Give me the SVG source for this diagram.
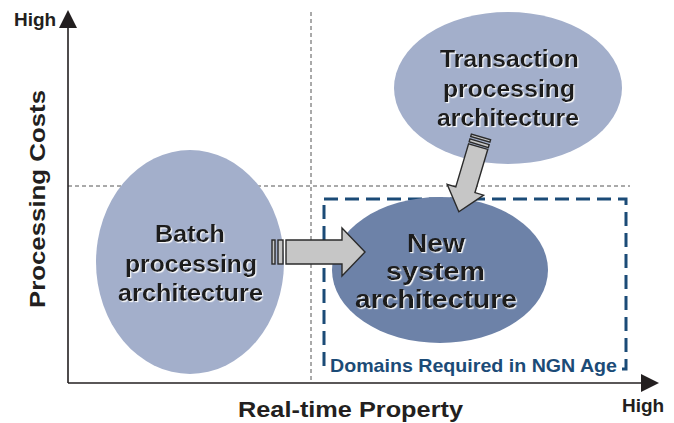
<svg xmlns="http://www.w3.org/2000/svg" width="674" height="423" viewBox="0 0 674 423">
  <defs>
    <style>
      .axis { stroke: #231f20; stroke-width: 1.6; fill: none; }
      .guide { stroke: #555; stroke-width: 1; stroke-dasharray: 4 3; fill: none; }
      .domain { stroke: #1b4b77; stroke-width: 3; stroke-dasharray: 14 7; fill: none; }
      .lbl { font-family: "Liberation Sans", Arial, sans-serif; font-weight: bold; fill: #231f20; }
      .node-text { font-family: "Liberation Sans", Arial, sans-serif; font-weight: bold; font-size: 24px; fill: #1c1c1c; text-anchor: middle; filter: url(#glow); }
      .big { font-size: 26px; }
      .flow { fill: #c6c6c6; stroke: #2b2b2b; stroke-width: 1.4; stroke-linejoin: miter; }
    </style>
    <filter id="glow" x="-10%" y="-20%" width="120%" height="140%">
      <feDropShadow dx="1.2" dy="1.2" stdDeviation="0.3" flood-color="#ffffff" flood-opacity="0.9"/>
    </filter>
  </defs>

  <!-- quadrant guides -->
  <g id="guides">
    <line class="guide" x1="311" y1="12" x2="311" y2="382"/>
    <line class="guide" x1="68" y1="186" x2="630" y2="186"/>
  </g>

  <!-- axes -->
  <g id="axes">
    <line class="axis" x1="68" y1="383" x2="644" y2="383"/>
    <polygon points="659,383 641,374 641,392" fill="#231f20"/>
    <line class="axis" x1="68" y1="383" x2="68" y2="26"/>
    <polygon points="68,10 59,28 77,28" fill="#231f20"/>
    <text class="lbl" x="14" y="26" font-size="19">High</text>
    <text class="lbl" x="622" y="412" font-size="19">High</text>
    <text class="lbl" x="238" y="417" font-size="22" textLength="225" lengthAdjust="spacingAndGlyphs">Real-time Property</text>
    <text class="lbl" font-size="22" textLength="218" lengthAdjust="spacingAndGlyphs" transform="translate(45,308) rotate(-90)">Processing Costs</text>
  </g>

  <!-- target domain -->
  <g id="domain">
    <rect class="domain" x="324" y="199" width="302" height="170"/>
  </g>

  <g id="batch">
    <ellipse cx="190" cy="262" rx="94" ry="112" fill="#a3afcb"/>
    <text class="node-text" x="190" y="242" textLength="70" lengthAdjust="spacingAndGlyphs">Batch</text>
    <text class="node-text" x="191" y="272" textLength="132" lengthAdjust="spacingAndGlyphs">processing</text>
    <text class="node-text" x="190.5" y="301" textLength="145" lengthAdjust="spacingAndGlyphs">architecture</text>
  </g>

  <g id="transaction">
    <ellipse cx="508" cy="88" rx="114" ry="76" fill="#a3afcb"/>
    <text class="node-text" x="509.5" y="67" textLength="139" lengthAdjust="spacingAndGlyphs">Transaction</text>
    <text class="node-text" x="509" y="97" textLength="132" lengthAdjust="spacingAndGlyphs">processing</text>
    <text class="node-text" x="508" y="126" textLength="142" lengthAdjust="spacingAndGlyphs">architecture</text>
  </g>

  <g id="new-system">
    <ellipse cx="440" cy="270" rx="108" ry="73" fill="#6d82a8"/>
    <text class="node-text big" x="436" y="252" textLength="58" lengthAdjust="spacingAndGlyphs">New</text>
    <text class="node-text big" x="435.5" y="280" textLength="99" lengthAdjust="spacingAndGlyphs">system</text>
    <text class="node-text big" x="436" y="308" textLength="162" lengthAdjust="spacingAndGlyphs">architecture</text>
  </g>

  <g id="domain-label">
    <rect x="328" y="354" width="292" height="24" fill="#ffffff"/>
    <text x="330" y="372" font-family="Liberation Sans, Arial, sans-serif" font-weight="bold" font-size="19" fill="#1b4b77" textLength="287" lengthAdjust="spacingAndGlyphs">Domains Required in NGN Age</text>
  </g>

  <!-- transitions -->
  <g id="connectors">
    <g transform="translate(272,252)">
      <rect class="flow" x="0" y="-12" width="3" height="24"/>
      <rect class="flow" x="6" y="-12" width="5" height="24"/>
      <polygon class="flow" points="14,-12 70,-12 70,-24 93,0 70,24 70,12 14,12"/>
    </g>
    <g transform="translate(481,137) rotate(106.5)">
      <rect class="flow" x="0" y="-10" width="2.5" height="20"/>
      <rect class="flow" x="5" y="-10" width="3" height="20"/>
      <polygon class="flow" points="10,-10 55,-10 55,-19 78,0 55,19 55,10 10,10"/>
    </g>
  </g>
</svg>
